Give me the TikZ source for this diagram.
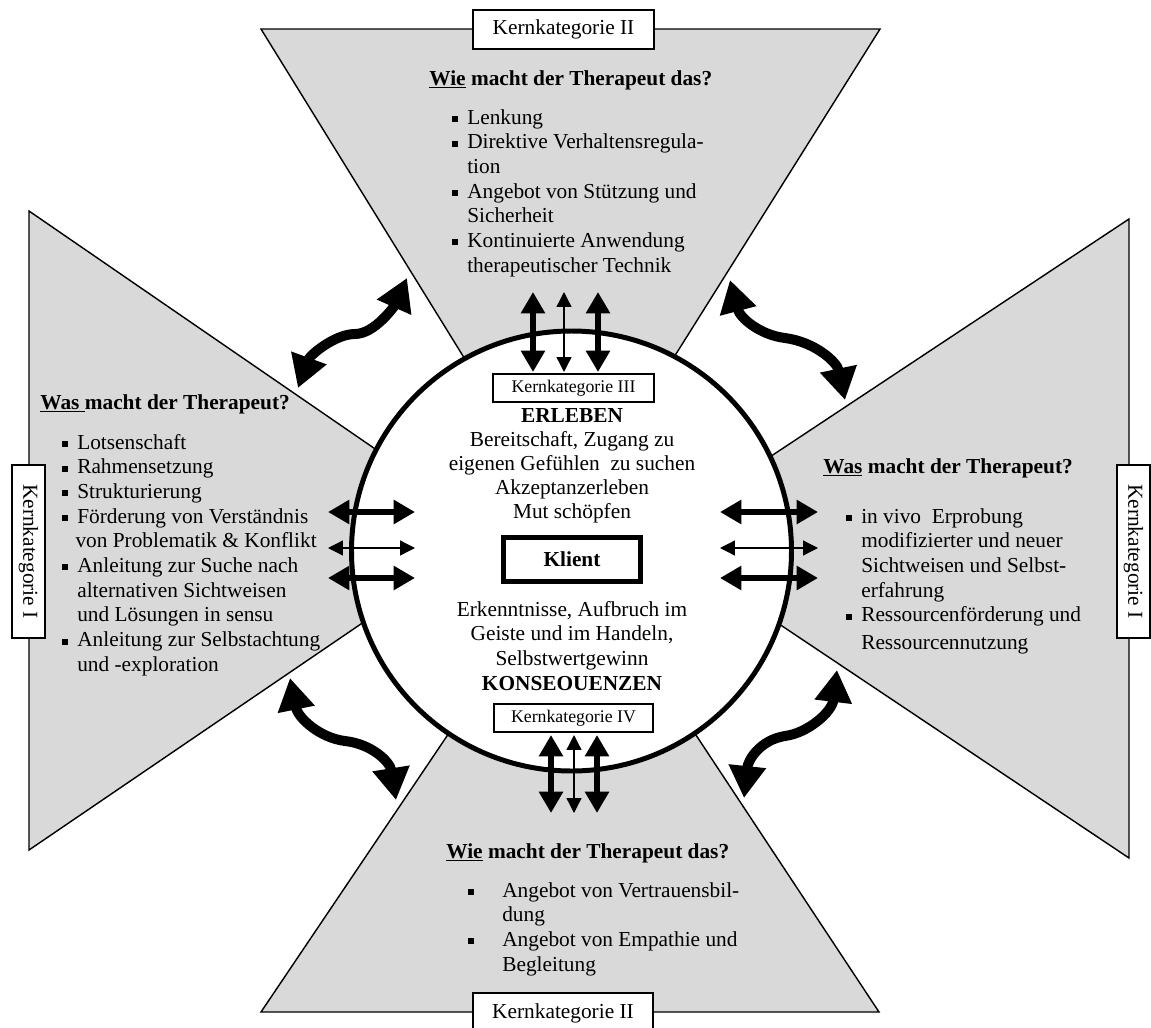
\documentclass[tikz,border=0pt]{standalone}
\usepackage{fontspec}
\setmainfont{Liberation Serif}
\usetikzlibrary{arrows.meta}
\definecolor{panelgray}{RGB}{217,217,217}
% square bullet set in a box of the given width, and the matching indent
\newcommand{\bul}[1]{\makebox[#1][l]{\raisebox{1.2pt}{\rule{3.4pt}{3.4pt}}}}
\newcommand{\ind}[1]{\hspace*{#1}}

\begin{document}
\begin{tikzpicture}[x=0.5625pt, y=-0.5625pt,
  every node/.style={font=\fontsize{12}{13.9}\selectfont, inner sep=0pt},
  panel/.style={draw=black, line width=0.8pt, fill=panelgray, line join=miter},
  katbox/.style={draw=black, line width=0.8pt, fill=white, align=center},
  smallkat/.style={katbox, font=\fontsize{10}{12}\selectfont},
  dblthick/.style={line width=3.6pt, {Triangle[width=13pt,length=12pt]}-{Triangle[width=13pt,length=12pt]}},
  dblthin/.style={line width=0.75pt, {Triangle[width=8.4pt,length=8.4pt]}-{Triangle[width=8.4pt,length=8.4pt]}},
  swing/.style={line width=5.6pt, {Triangle[width=20pt,length=18pt]}-{Triangle[width=20pt,length=18pt]}},
  heading/.style={anchor=base west, font=\fontsize{12}{13.9}\selectfont\bfseries},
  listblock/.style={anchor=base west},
  centerblock/.style={anchor=base},
]
\useasboundingbox (0,0) rectangle (1151,1028);

% four grey wedges pointing at the centre
\draw[panel] (261,29) -- (880,29) -- (568,526) -- cycle;
\draw[panel] (29,211) -- (496,532) -- (29,850) -- cycle;
\draw[panel] (1129,219) -- (649,537) -- (1129,858) -- cycle;
\draw[panel] (261,1012) -- (879,1012) -- (573,549) -- cycle;

% central circle
\node[draw, circle, line width=2.8pt, fill=white, minimum size=247.5pt] (ring) at (571.5,551) {};

% category labels
\node[katbox, minimum width=101.8pt, minimum height=21.9pt] (k2top) at (563.5,29.5) {Kernkategorie II};
\node[katbox, minimum width=101.3pt, minimum height=22.5pt] (k2bot) at (563,1013) {Kernkategorie II};
\node[katbox, rotate=-90, minimum width=97.3pt, minimum height=18.6pt] (k1left) at (28.5,551.5) {Kernkategorie I};
\node[katbox, rotate=-90, minimum width=97.3pt, minimum height=18.6pt] (k1right) at (1133.5,551.5) {Kernkategorie I};
\node[smallkat, minimum width=90.6pt, minimum height=15.75pt] (k3) at (573.5,388) {Kernkategorie III};
\node[smallkat, minimum width=89.4pt, minimum height=15.75pt] (k4) at (573.5,718) {Kernkategorie IV};
\node[draw, line width=2.8pt, fill=white, minimum width=77pt, minimum height=24.75pt,
      font=\fontsize{12}{13.9}\selectfont\bfseries] (klient) at (572,559.5) {Klient};

% headings
\node[heading] (htop) at (429,85) {\underline{Wie} macht der Therapeut das?};
\node[heading] (hleft) at (40,409) {\underline{Was\ }macht der Therapeut?};
\node[heading] (hright) at (823,473) {\underline{Was} macht der Therapeut?};
\node[heading] (hbot) at (446,858) {\underline{Wie} macht der Therapeut das?};

% bullet lists
\node[listblock] (ltop) at (452,124) {\parbox[t]{200pt}{\raggedright
  \bul{8.4pt}Lenkung\\
  \bul{8.4pt}Direktive Verhaltensregula-\\
  \ind{8.4pt}tion\\
  \bul{8.4pt}Angebot von Stützung und\\
  \ind{8.4pt}Sicherheit\\
  \bul{8.4pt}Kontinuierte Anwendung\\
  \ind{8.4pt}therapeutischer Technik}};

\node[listblock] (lleft) at (62,449) {\parbox[t]{200pt}{\raggedright
  \bul{8.4pt}Lotsenschaft\\
  \bul{8.4pt}Rahmensetzung\\
  \bul{8.4pt}Strukturierung\\
  \bul{8.4pt}Förderung von Verständnis\\
  \ind{7.4pt}von Problematik \& Konflikt\\
  \bul{8.4pt}Anleitung zur Suche nach\\
  \ind{8.4pt}alternativen Sichtweisen\\
  \ind{8.4pt}und Lösungen in sensu\\
  \bul{8.4pt}Anleitung zur Selbstachtung\\
  \ind{8.4pt}und -exploration}};

\node[listblock] (lright) at (846,523) {\parbox[t]{200pt}{\raggedright
  \bul{8.4pt}in vivo\ \ Erprobung\\
  \ind{8.4pt}modifizierter und neuer\\
  \ind{8.4pt}Sichtweisen und Selbst-\\
  \ind{8.4pt}erfahrung\\
  \bul{8.4pt}Ressourcenförderung und\\[1.7pt]
  \ind{8.4pt}Ressourcennutzung}};

\node[listblock] (lbot) at (468,897) {\parbox[t]{200pt}{\raggedright
  \bul{19.1pt}Angebot von Vertrauensbil-\\
  \ind{19.1pt}dung\\
  \bul{19.1pt}Angebot von Empathie und\\
  \ind{19.1pt}Begleitung}};

% texts inside the circle
\node[centerblock, font=\fontsize{12}{13.6}\selectfont] (erleben) at (572,422) {\parbox[t]{200pt}{\centering
  \textbf{ERLEBEN}\\
  Bereitschaft, Zugang zu\\
  eigenen Gefühlen\ \ zu suchen\\
  Akzeptanzerleben\\
  Mut schöpfen}};
\node[centerblock] (folgen) at (572,616) {\parbox[t]{200pt}{\centering
  Erkenntnisse, Aufbruch im\\
  Geiste und im Handeln,\\
  Selbstwertgewinn\\
  \textbf{KONSEOUENZEN}}};

% straight double arrows through the circle
\foreach \x/\s [count=\i] in {533/dblthick,564/dblthin,598/dblthick}{
  \coordinate (nA\i) at (\x,292); \coordinate (nB\i) at (\x,372);
  \draw[\s] (nA\i) -- (nB\i);
}
\foreach \x/\s [count=\i] in {551/dblthick,574/dblthin,597/dblthick}{
  \coordinate (sA\i) at (\x,735); \coordinate (sB\i) at (\x,813);
  \draw[\s] (sA\i) -- (sB\i);
}
\foreach \y/\s [count=\i] in {512/dblthick,548/dblthin,578/dblthick}{
  \coordinate (wA\i) at (328,\y); \coordinate (wB\i) at (415,\y);
  \draw[\s] (wA\i) -- (wB\i);
  \coordinate (eA\i) at (720,\y); \coordinate (eB\i) at (818,\y);
  \draw[\s] (eA\i) -- (eB\i);
}

% curved double arrows between neighbouring wedges
\coordinate (nwA) at (298,388); \coordinate (nwB) at (407,278);
\draw[swing] (nwA) .. controls (310,355) and (335,334) .. (355,334)
                   .. controls (375,334) and (395,305) .. (nwB);
\coordinate (neA) at (730,280); \coordinate (neB) at (845,400);
\draw[swing] (neA) .. controls (740,318) and (760,335) .. (785,338)
                   .. controls (815,342) and (837,362) .. (neB);
\coordinate (swA) at (290,678); \coordinate (swB) at (396,800);
\draw[swing] (swA) .. controls (298,718) and (320,738) .. (345,741)
                   .. controls (372,744) and (390,762) .. (swB);
\coordinate (seA) at (837,670); \coordinate (seB) at (744,798);
\draw[swing] (seA) .. controls (832,712) and (808,733) .. (785,736)
                   .. controls (760,740) and (748,760) .. (seB);
\end{tikzpicture}
\end{document}
